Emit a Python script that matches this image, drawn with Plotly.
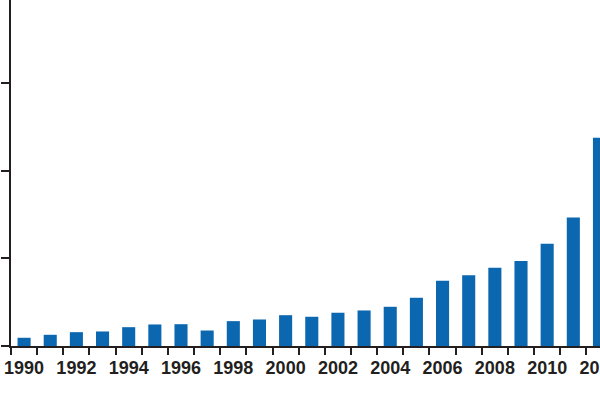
import plotly.graph_objects as go

years = list(range(1990, 2013))
values = [
    9.4, 12.8, 15.8, 16.6, 21.5, 24.6, 24.9, 17.7, 28.4, 30.3, 35.2, 33.4,
    38.0, 40.6, 44.8, 55.1, 74.6, 80.7, 89.5, 97.0, 116.9, 146.7, 237.8,
]
label_years = list(range(1990, 2013, 2))
y_ticks = [0, 100, 200, 300]

BAR_BLUE = "#0a67b0"
INK = "#231f20"

fig = go.Figure(
    go.Bar(x=years, y=values, width=0.5, marker=dict(color=BAR_BLUE, line=dict(width=0)))
)

fig.update_layout(
    width=600,
    height=400,
    margin=dict(l=11, r=0, t=0, b=54, autoexpand=False),
    plot_bgcolor="white",
    paper_bgcolor="white",
    showlegend=False,
    xaxis=dict(
        range=[1989.5, 2012.02],
        automargin=False,
        tickvals=label_years,
        ticktext=[str(y) for y in label_years],
        ticks="",
        ticklabelstandoff=4,
        ticklabeloverflow="allow",
        showline=True,
        linecolor=INK,
        linewidth=2,
        showgrid=False,
        zeroline=False,
        tickfont=dict(family="Liberation Sans, Arial, sans-serif", size=18, color=INK, weight="bold"),
        minor=dict(tick0=1989.5, dtick=1, ticks="outside", ticklen=7, tickwidth=2, tickcolor=INK, showgrid=False),
    ),
    yaxis=dict(
        range=[0, 395.3],
        automargin=False,
        tickvals=y_ticks,
        ticks="outside",
        ticklen=8,
        tickwidth=2,
        tickcolor=INK,
        showticklabels=False,
        showline=True,
        linecolor=INK,
        linewidth=2,
        showgrid=False,
        zeroline=False,
    ),
)

# the page is exactly the window size, so drop the browser's default body margin
fig.write_html(
    "out.html",
    config={"displayModeBar": False},
    post_script="document.body.style.margin = '0';",
)
